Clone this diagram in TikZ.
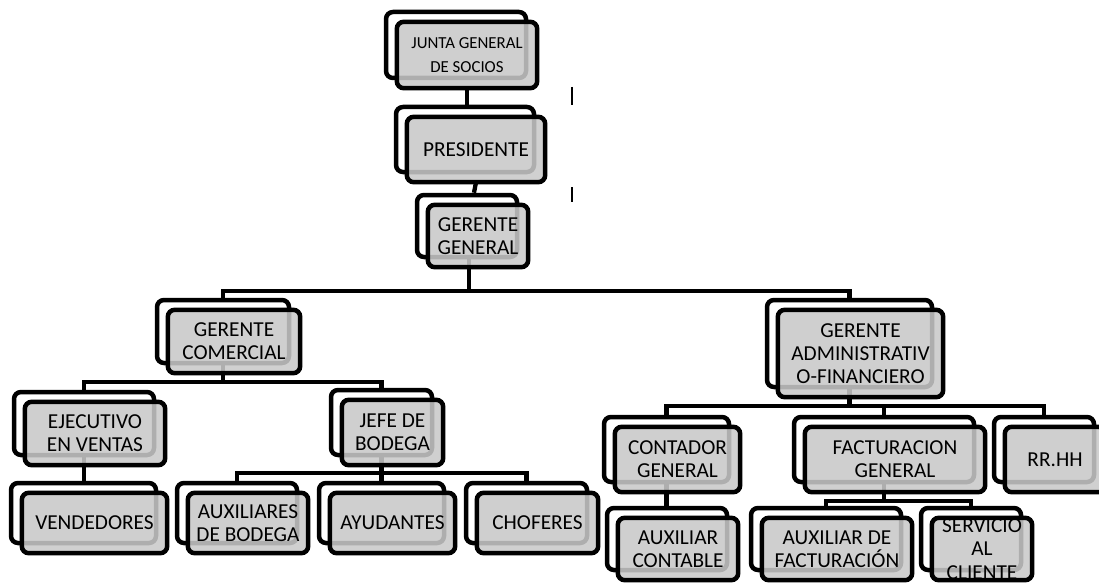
\documentclass[tikz,border=0pt]{standalone}
\usepackage{fontspec}
\setmainfont{Carlito}
\pgfdeclarelayer{links}
\pgfsetlayers{links,main}
\tikzset{
  backframe/.style={draw=black, line width=4.5pt, fill=white, rounded corners=7pt, inner sep=0pt},
  frontbox/.style={fill=black!21, fill opacity=0.87, text opacity=1, rounded corners=7pt,
                   inner sep=0pt, align=center, font=\fontsize{21.3}{23.3}\selectfont},
  frontedge/.style={draw=black, line width=4.5pt, rounded corners=7pt},
  link/.style={draw=black, line width=4.3pt},
  cursor/.style={draw=black, line width=1.3pt}
}
% #1 name, #2..#5 front box corners (x1,y1,x2,y2), #6 label
\newcommand\orgunit[6]{%
  \node[backframe, minimum width={(#4-#2)*1pt}, minimum height={(#5-#3)*1pt}]
    (#1b) at ({(#2+#4)/2-11},{(#3+#5)/2-10}) {};
  \node[frontbox, minimum width={(#4-#2)*1pt}, minimum height={(#5-#3)*1pt}]
    (#1) at ({(#2+#4)/2},{(#3+#5)/2}) {#6};
}
\begin{document}
\begin{tikzpicture}[x=1pt, y=-1pt]
\useasboundingbox (0,0) rectangle (1099,583);
\clip (0,0) rectangle (1099,583);

% top of the chart
\orgunit{junta}{397}{22}{537}{88}{\fontsize{16.8}{16.5}\selectfont JUNTA GENERAL\\\fontsize{16.8}{16.5}\selectfont DE SOCIOS}
\orgunit{pres}{407}{117}{545}{182}{PRESIDENTE}
\orgunit{gg}{428}{205}{528}{267}{GERENTE\\GENERAL}

% managers
\orgunit{gc}{168}{310}{300}{373}{GERENTE\\COMERCIAL}
\orgunit{ga}{778}{310}{943}{397}{GERENTE\\ADMINISTRATIV\\O-FINANCIERO}

% commercial branch
\orgunit{ej}{25}{402}{165}{465}{EJECUTIVO\\EN VENTAS}
\orgunit{jefe}{342}{400}{443}{465}{JEFE DE\\BODEGA}
\orgunit{vend}{22}{493}{167}{553}{VENDEDORES}
\orgunit{auxb}{188}{493}{308}{553}{AUXILIARES\\DE BODEGA}
\orgunit{ayu}{330}{493}{455}{553}{AYUDANTES}
\orgunit{chof}{477}{493}{598}{553}{CHOFERES}

% administrative branch
\orgunit{cont}{615}{427}{740}{492}{CONTADOR\\GENERAL}
\orgunit{fact}{805}{427}{985}{492}{FACTURACION\\GENERAL}
\orgunit{rrhh}{1005}{427}{1105}{492}{RR.HH}
\orgunit{auxc}{618}{518}{738}{580}{AUXILIAR\\CONTABLE}
\orgunit{auxf}{762}{518}{912}{580}{AUXILIAR DE\\FACTURACIÓN}
\orgunit{serv}{932}{518}{1032}{580}{SERVICIO\\AL\\CLIENTE}

% outlines of the front boxes, drawn over their labels
\foreach \n in {junta,pres,gg,gc,ga,ej,jefe,vend,auxb,ayu,chof,cont,fact,rrhh,auxc,auxf,serv}
  \draw[frontedge] (\n.north west) rectangle (\n.south east);

% levels of the horizontal bars
\coordinate (bar1) at (0,291);
\coordinate (bar2) at (0,382);
\coordinate (bar3) at (0,473);
\coordinate (bar4) at (0,406);
\coordinate (bar5) at (0,501);

\begin{pgfonlayer}{links}
  \draw[link] (junta.south) -- (junta.south |- presb.north);
  \draw[link] (pres.south) -- ([xshift=-2pt]pres.south |- ggb.north);
  % general manager to the two managers
  \draw[link] ([xshift=2pt]ggb.center) -- ([xshift=2pt]ggb.center |- bar1);
  \draw[link] (gcb.north) |- (gab.north |- bar1) -- (gab.north);
  % commercial manager
  \draw[link] (gcb.center) -- (gcb.center |- bar2);
  \draw[link] (ejb.north) |- (jefeb.north |- bar2) -- (jefeb.north);
  \draw[link] (ejb.center) -- (ejb.center |- vendb.north);
  % warehouse chief
  \draw[link] (jefeb.center) -- (jefeb.center |- ayub.north);
  \draw[link] (auxbb.north) |- (chofb.north |- bar3) -- (chofb.north);
  % administrative manager
  \draw[link] (gab.center) -- (gab.center |- bar4);
  \draw[link] (contb.north) |- (rrhhb.north |- bar4) -- (rrhhb.north);
  \draw[link] (factb.north) -- (factb.north |- bar4);
  \draw[link] (contb.center) -- (contb.center |- auxcb.north);
  % billing
  \draw[link] (factb.center) -- (factb.center |- bar5);
  \draw[link] (auxfb.north) |- (servb.north |- bar5) -- (servb.north);
\end{pgfonlayer}

% two stray text cursors
\coordinate (c1t) at (572,87);
\coordinate (c1b) at (572,105);
\coordinate (c2t) at (572,187);
\coordinate (c2b) at (572,202);
\draw[cursor] (c1t) -- (c1b);
\draw[cursor] (c2t) -- (c2b);
\end{tikzpicture}
\end{document}
